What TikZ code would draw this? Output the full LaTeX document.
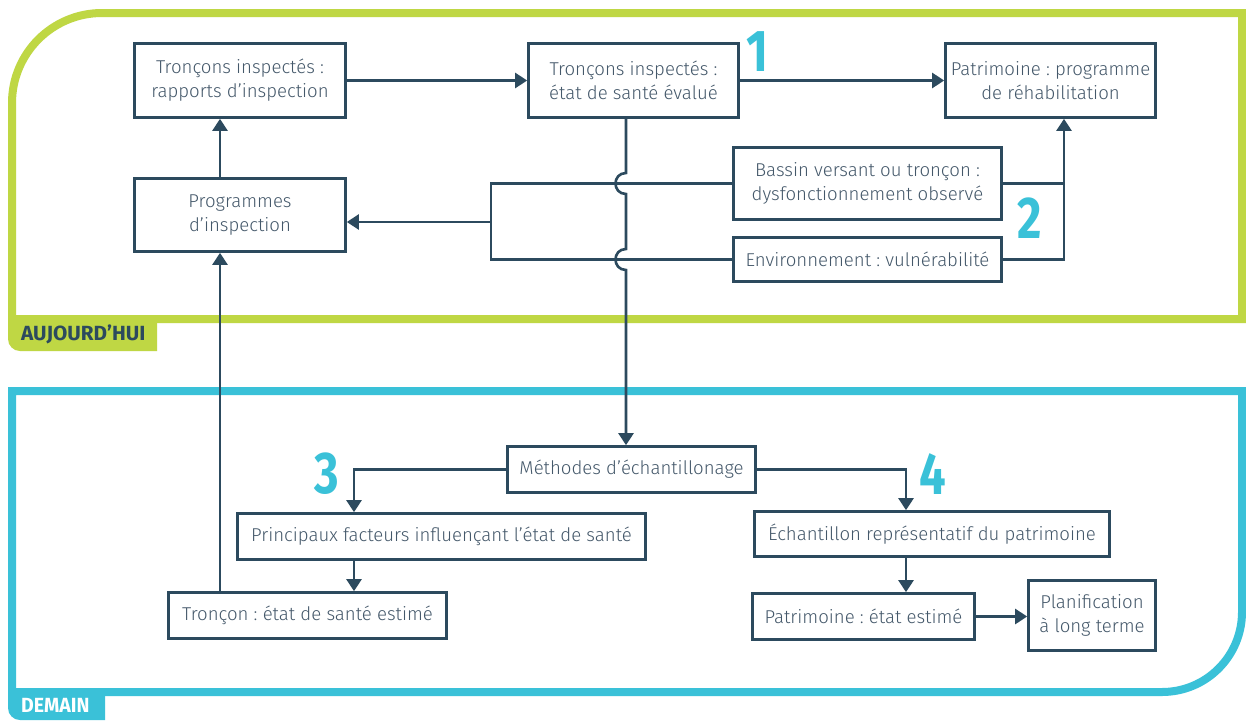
\documentclass[tikz,border=0pt]{standalone}
\usepackage{fontspec}
\setmainfont{Fira Sans}
\newfontfamily\lightfont{Fira Sans Light}
\usetikzlibrary{arrows.meta,calc}
\definecolor{lime}{HTML}{BFD744}
\definecolor{aqua}{HTML}{3AC1D8}
\definecolor{navy}{HTML}{2C4A5E}
\definecolor{ink}{HTML}{44586A}
\frenchspacing

\begin{document}
\begin{tikzpicture}[x=1pt,y=-1pt,
  box/.style={draw=navy, line width=2.7pt, fill=white, inner sep=0pt, align=center,
              text=ink, font=\lightfont\fontsize{18.6}{24}\selectfont},
  link/.style={draw=navy, line width=2.6pt},
  arr/.style={link, -{Triangle[length=12pt,width=15pt]}},
  num/.style={text=aqua, font=\fontsize{59}{59}\selectfont\bfseries, inner sep=0pt},
  tag/.style={font=\fontsize{20.5}{22}\selectfont\bfseries, inner sep=0pt, anchor=west}]

% canvas
\fill[white] (0,0) rectangle (1246,720);

% "today" frame
\draw[lime, line width=8pt] (1242,319) -- (12,319) -- (12,103)
  arc[start angle=180,end angle=270,radius=90] -- (1242,13) -- cycle;
\fill[lime] (157,315) -- (157,351) -- (20,351)
  arc[start angle=90,end angle=180,radius=12] -- (8,315) -- cycle;

% "tomorrow" frame
\draw[aqua, line width=8pt] (12,692) -- (12,391) -- (1242,391) -- (1242,612)
  arc[start angle=0,end angle=90,radius=80] -- cycle;
\fill[aqua] (105,688) -- (105,720) -- (20,720)
  arc[start angle=90,end angle=180,radius=12] -- (8,688) -- cycle;

% boxes
\node[box, minimum width=211pt, minimum height=74pt] (A) at (240,80.5)
  {Tronçons inspectés :\\rapports d’inspection};
\node[box, minimum width=211pt, minimum height=73pt] (B) at (240,215)
  {Programmes\\d’inspection};
\node[box, minimum width=210pt, minimum height=74pt] (C) at (633.5,80.5)
  {Tronçons inspectés :\\état de santé évalué};
\node[box, minimum width=210pt, minimum height=74pt] (F) at (1050.5,80.5)
  {Patrimoine : programme\\de réhabilitation};
\node[box, minimum width=268pt, minimum height=72pt] (D) at (867.5,183.5)
  {Bassin versant ou tronçon :\\dysfonctionnement observé};
\node[box, minimum width=268pt, minimum height=44pt] (E) at (867.5,259.5)
  {Environnement : vulnérabilité};
\node[box, minimum width=248pt, minimum height=46pt] (G) at (631.5,469.5)
  {Méthodes d’échantillonage};
\node[box, minimum width=408pt, minimum height=46pt] (H) at (441.5,536.5)
  {Principaux facteurs influençant l’état de santé};
\node[box, minimum width=278pt, minimum height=46pt] (I) at (307.5,615.5)
  {Tronçon : état de santé estimé};
\node[box, minimum width=355pt, minimum height=45pt] (J) at (932,534)
  {Échantillon représentatif du patrimoine};
\node[box, minimum width=222pt, minimum height=46pt] (K) at (863.5,616.5)
  {Patrimoine : état estimé};
\node[box, minimum width=127pt, minimum height=70pt] (L) at (1092,615.5)
  {Planification\\à long terme};

% routing columns
\coordinate (lcol) at (220,0);
\coordinate (trunk) at (626,0);
\coordinate (jn) at (491,222);
\coordinate (rcol) at (1064,0);
\coordinate (c3) at (354,0);
\coordinate (c4) at (906,0);
\coordinate (hop1) at (trunk |- D.west);
\coordinate (hop2) at (trunk |- E.west);

% connectors
\draw[arr] (A.east) -- (A.east -| C.west);
\draw[arr] (C.east) -- (C.east -| F.west);
\draw[arr] (B.north -| lcol) -- (A.south -| lcol);
\draw[arr] (I.north -| lcol) -- (B.south -| lcol);

\draw[link] (D.west) -- (D.west -| jn) -- (E.west -| jn) -- (E.west);
\draw[arr] (jn) -- (jn -| B.east);

\draw[link] (D.east) -- (D.east -| rcol);
\draw[arr] (E.east) -| (rcol |- F.south);

% trunk hopping over the two horizontal feeds
\draw[arr] (C.south -| trunk) -- ($(hop1)+(0,-10.5)$)
  .. controls ($(hop1)+(-14,-10.5)$) and ($(hop1)+(-14,10.5)$) .. ($(hop1)+(0,10.5)$)
  -- ($(hop2)+(0,-10.5)$)
  .. controls ($(hop2)+(-14,-10.5)$) and ($(hop2)+(-14,10.5)$) .. ($(hop2)+(0,10.5)$)
  -- (trunk |- G.north);

\draw[arr] (G.west) -| (c3 |- H.north);
\draw[arr] (c3 |- H.south) -- (c3 |- I.north);
\draw[arr] (G.east) -| (c4 |- J.north);
\draw[arr] (c4 |- J.south) -- (c4 |- K.north);
\draw[arr] (K.east) -- (K.east -| L.west);

% step numbers
\node[num] (n1) at (757,52) {\scalebox{0.8}[1]{1}};
\node[num] (n2) at (1030,218) {\scalebox{0.8}[1]{2}};
\node[num] (n3) at (327,474) {\scalebox{0.8}[1]{3}};
\node[num] (n4) at (933,474) {\scalebox{0.8}[1]{4}};

% frame tags
\node[tag, text=navy] (today) at (21,334.5) {\scalebox{1.01}[1]{AUJOURD’HUI}};
\node[tag, text=white] (tomorrow) at (21,705.5) {\scalebox{0.95}[1]{DEMAIN}};
\end{tikzpicture}
\end{document}
